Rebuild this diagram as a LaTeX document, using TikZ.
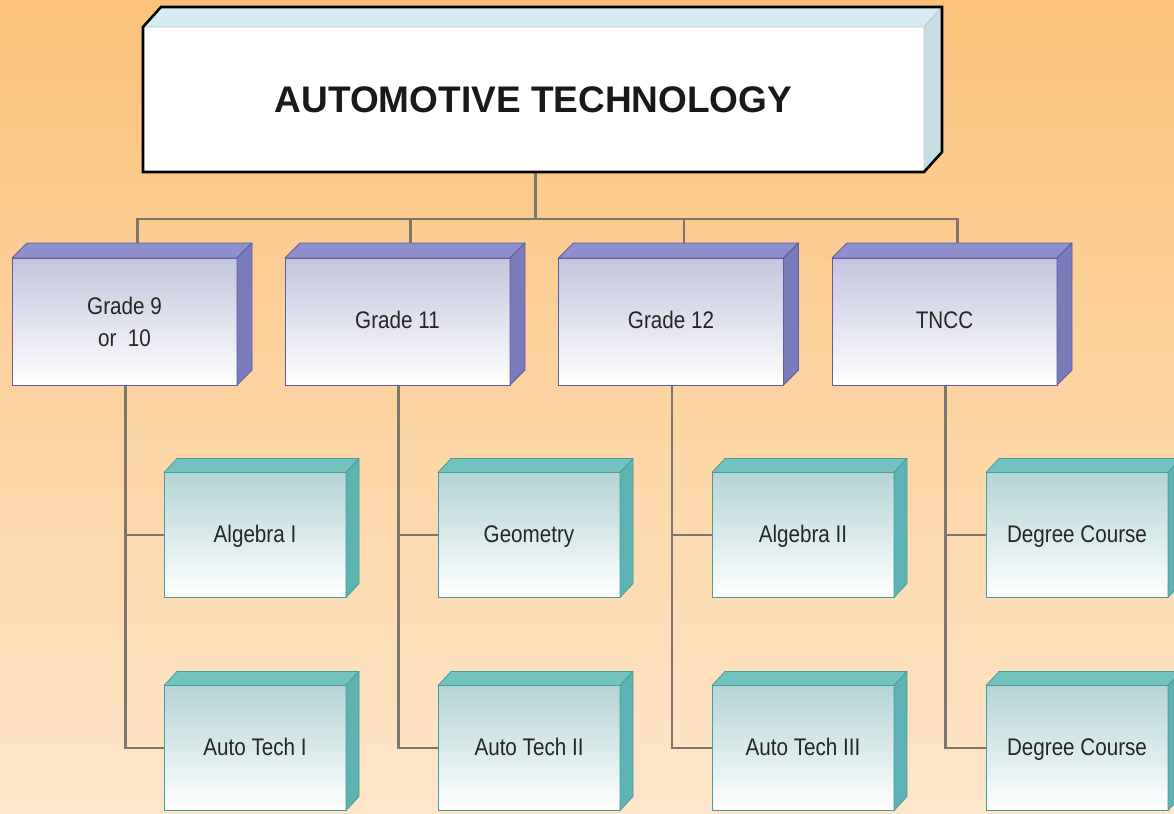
\documentclass[tikz,border=0pt]{standalone}
\usepackage{fontspec}
\setmainfont{Liberation Sans}
\newfontfamily\narrowfont[FakeStretch=0.86]{Liberation Sans}
\usetikzlibrary{calc}
\definecolor{bgtop}{HTML}{FAC27A}
\definecolor{bgbot}{HTML}{FEE6CA}
\definecolor{gtop}{HTML}{8E8FCB}
\definecolor{gside}{HTML}{7A7BBA}
\definecolor{gedge}{HTML}{5E5E9E}
\definecolor{gfront}{HTML}{C2C5DD}
\definecolor{ctop}{HTML}{72C2BE}
\definecolor{cside}{HTML}{5DB3B1}
\definecolor{cedge}{HTML}{4E9C9A}
\definecolor{cfront}{HTML}{B4D4D6}
\definecolor{ttop}{HTML}{D6ECF2}
\definecolor{tside}{HTML}{C6DDE2}
\definecolor{linec}{HTML}{7F7670}
\pgfdeclarelayer{bg}
\pgfsetlayers{bg,main}
\newcommand\boxfaces[6]{%
  \filldraw[fill=#4,draw=#6,line width=0.8pt,line join=round]
    (#1.north west) -- ++(#2,-#3) -- ($(#1.north east)+(#2,-#3)$) -- (#1.north east) -- cycle;
  \filldraw[fill=#5,draw=#6,line width=0.8pt,line join=round]
    (#1.north east) -- ++(#2,-#3) -- ($(#1.south east)+(#2,-#3)$) -- (#1.south east) -- cycle;
}
\tikzset{
  titlebox/.style={inner sep=0pt, outer sep=0pt, fill=white, minimum width=781pt, minimum height=145pt,
    font=\bfseries\fontsize{37}{44}\selectfont, text=black!90, text height=27pt, text depth=0pt},
  gradebox/.style={inner sep=0pt, outer sep=0pt, draw=gedge, line width=0.8pt, top color=gfront, bottom color=white,
    minimum width=225pt, minimum height=127pt, align=center,
    font=\narrowfont\fontsize{24}{32}\selectfont, text=black!85},
  oneline/.style={text height=19pt, text depth=5pt},
  coursebox/.style={inner sep=0pt, outer sep=0pt, draw=cedge, line width=0.8pt, top color=cfront, bottom color=white,
    minimum width=182pt, minimum height=125pt, align=center,
    font=\narrowfont\fontsize{24}{32}\selectfont, text=black!85, oneline},
  conn/.style={draw=linec, line width=2.2pt}
}
\begin{document}
\begin{tikzpicture}[x=1pt,y=-1pt]
\begin{pgfonlayer}{bg}
\fill[top color=bgtop, bottom color=bgbot] (0,0) rectangle (1174,813);
\end{pgfonlayer}
\useasboundingbox (0,0) rectangle (1174,813);

% title
\node[titlebox] (title) at (533.5,99.5) {AUTOMOTIVE TECHNOLOGY};
\boxfaces{title}{18}{20}{ttop}{tside}{ttop!70!gray}
\draw[black, line width=2.6pt, line join=miter]
  (title.south west) -- (title.north west) -- ++(18,-20) -- ($(title.north east)+(18,-20)$)
  -- ($(title.south east)+(18,-20)$) -- (title.south east) -- cycle;

% grades
\node[gradebox] (g1) at (124.5,321.5) {Grade 9\\or\ \ 10};
\node[gradebox, oneline] (g2) at (397.5,321.5) {Grade 11};
\node[gradebox, oneline] (g3) at (671,321.5) {Grade 12};
\node[gradebox, oneline] (g4) at (944.5,321.5) {TNCC};
\foreach \g in {g1,g2,g3,g4} {\boxfaces{\g}{15}{15}{gtop}{gside}{gedge}}

% courses
\node[coursebox] (c1a) at (255,535) {Algebra I};
\node[coursebox] (c1b) at (255,748) {Auto Tech I};
\node[coursebox] (c2a) at (529,535) {Geometry};
\node[coursebox] (c2b) at (529,748) {Auto Tech II};
\node[coursebox] (c3a) at (803,535) {Algebra II};
\node[coursebox] (c3b) at (803,748) {Auto Tech III};
\node[coursebox] (c4a) at (1077,535) {Degree Course};
\node[coursebox] (c4b) at (1077,748) {Degree Course};
\foreach \c in {c1a,c1b,c2a,c2b,c3a,c3b,c4a,c4b} {\boxfaces{\c}{13}{14}{ctop}{cside}{cedge}}

% connectors
\begin{pgfonlayer}{bg}
\draw[conn] ([xshift=2pt]title.south) -- ++(0,47) coordinate (hub);
\foreach \g in {g1,g2,g3,g4} {\draw[conn] (hub) -| ([xshift=13pt]\g.north);}
\foreach \g/\a/\b in {g1/c1a/c1b, g2/c2a/c2b, g3/c3a/c3b, g4/c4a/c4b} {
  \draw[conn] ([xshift=1pt]\g.south) |- (\b.west);
  \draw[conn] ([xshift=1pt]\g.south |- \a.west) -- (\a.west);
}
\end{pgfonlayer}
\end{tikzpicture}
\end{document}
